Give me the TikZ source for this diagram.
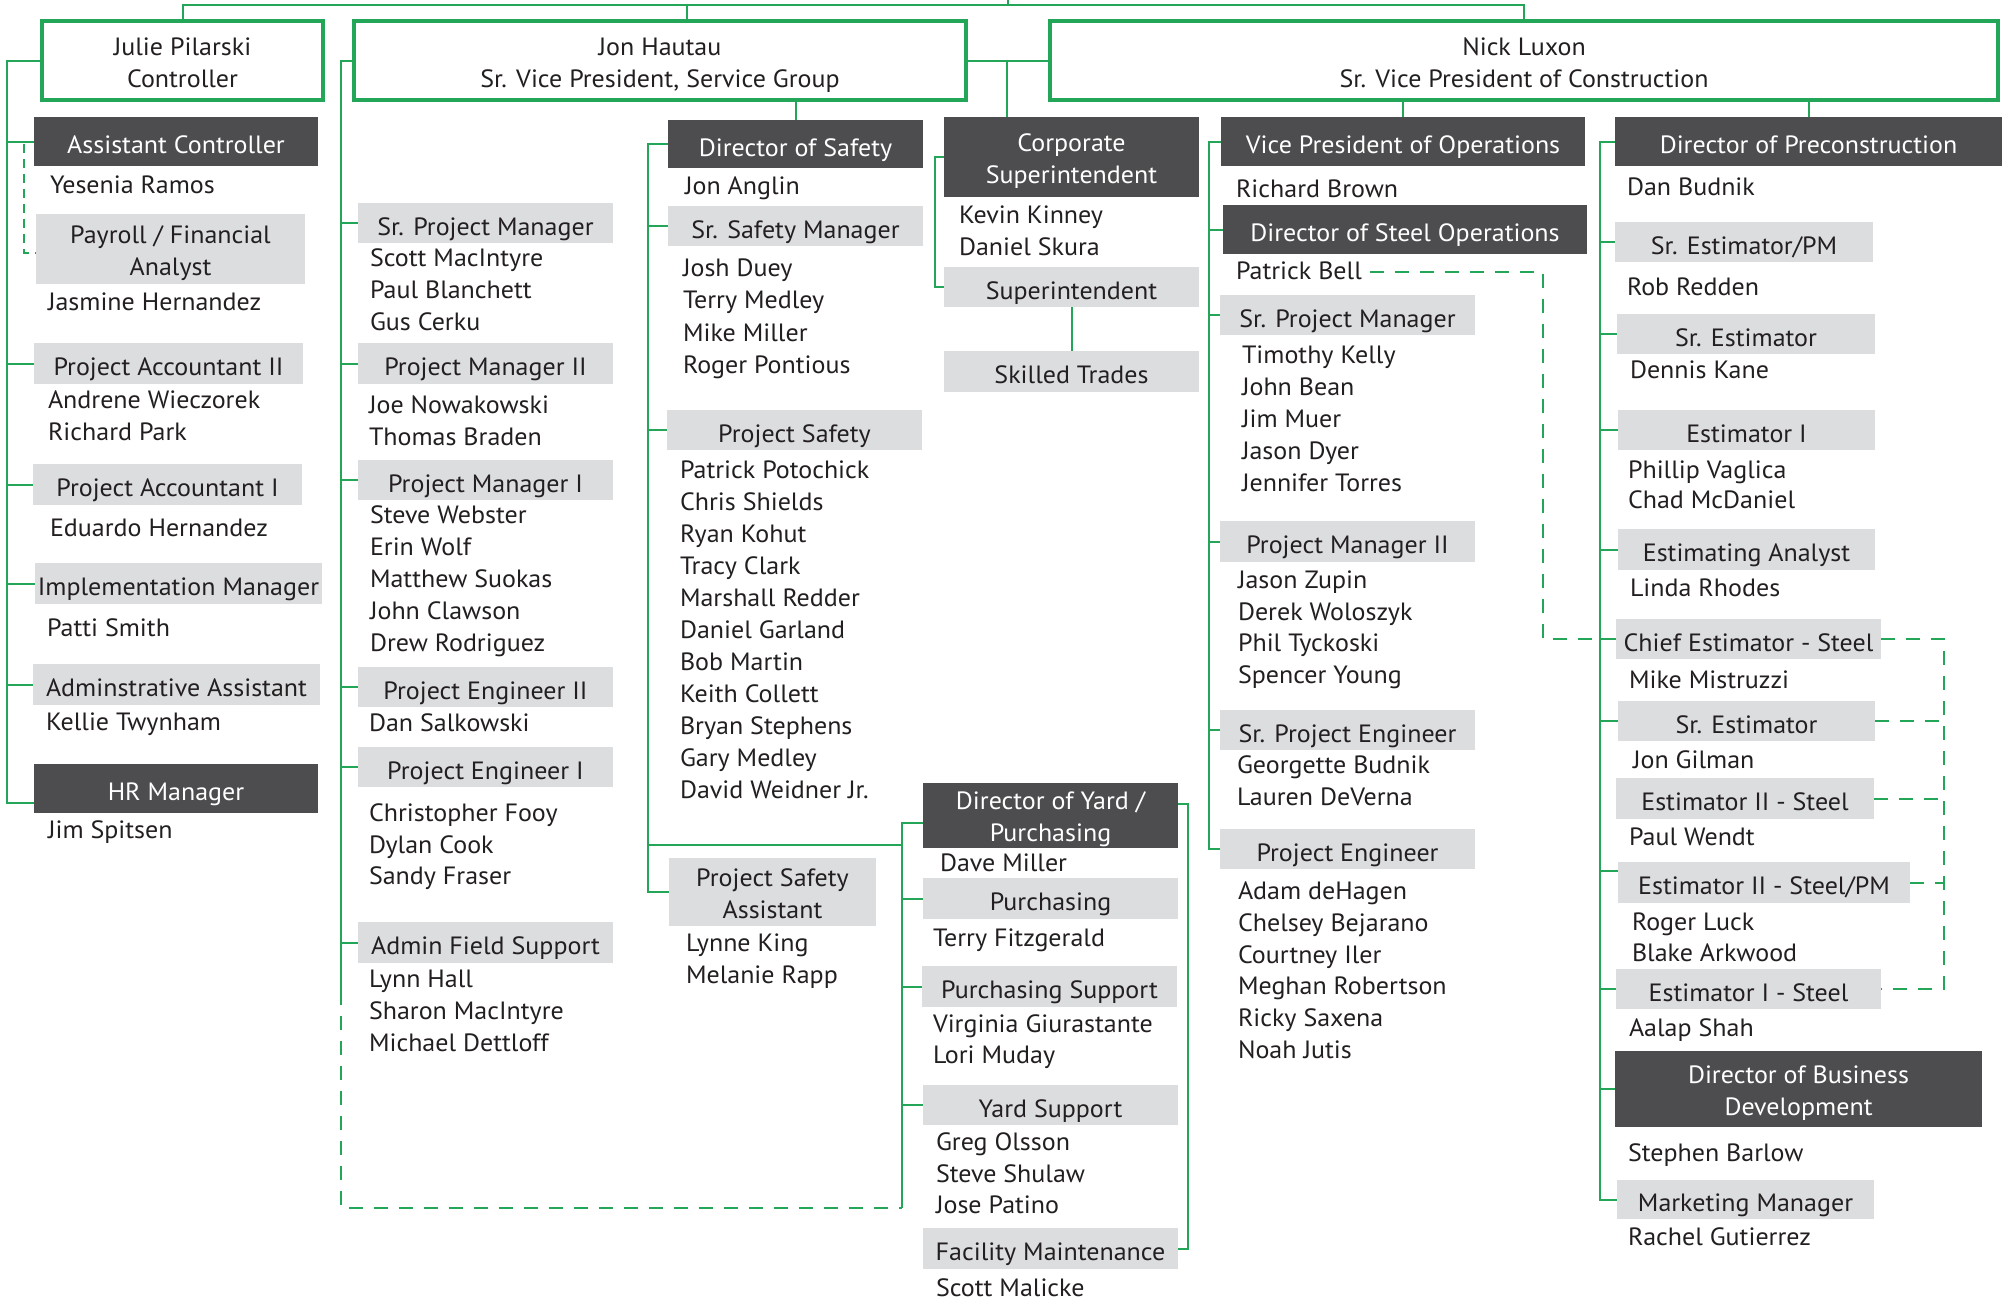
\documentclass[tikz,border=0pt]{standalone}
\usepackage{fontspec}
\setmainfont{PT Sans}[FakeStretch=1.04]
\usetikzlibrary{calc}
\definecolor{grn}{RGB}{35,166,88}
\definecolor{dk}{RGB}{77,77,79}
\definecolor{lt}{RGB}{220,221,223}
\definecolor{ink}{RGB}{35,31,32}
\newcommand\fs{\fontsize{25}{32}\selectfont}
\newcommand\two[2]{\rule{0pt}{27pt}#1\\#2\rule[-6pt]{0pt}{6pt}}
\newcommand\bx[7]{\node[#2, minimum width=#5-#3, minimum height=#6-#4] (#1) at ({(#3+#5)/2},{(#4+#6)/2}) {#7};}
\newcommand\people[5]{\foreach \t [count=\i from 0] in {#5} {\node[person] (#1-\i) at (#2,{#3+\i*#4}) {\t};}}
\begin{document}
\begin{tikzpicture}[x=1pt,y=-1pt,
  base/.style={inner sep=0pt, outer sep=0pt, align=center, font=\fs},
  one/.style={text height=24pt, text depth=0pt},
  topbox/.style={base, draw=grn, line width=3.5pt, fill=white, text=ink},
  dbox/.style={base, one, fill=dk, text=white},
  dbox2/.style={base, fill=dk, text=white},
  lbox/.style={base, one, fill=lt, text=ink},
  lbox2/.style={base, fill=lt, text=ink},
  person/.style={inner sep=0pt, outer sep=0pt, anchor=west, text=ink, font=\fs, text height=19pt, text depth=4pt},
  link/.style={draw=grn, line width=2pt},
  dlink/.style={link, dash pattern=on 14pt off 11pt}]
\fill[white] (0,0) rectangle (2007,1301);
\useasboundingbox (0,0) rectangle (2007,1301);

% ---------- top level ----------
\bx{julie}{topbox}{42}{21}{323}{100}{\two{Julie Pilarski}{Controller}}
\bx{jon}{topbox}{354}{21}{966}{100}{\two{Jon Hautau}{Sr. Vice President, Service Group}}
\bx{nick}{topbox}{1050}{21}{1998}{100}{\two{Nick Luxon}{Sr. Vice President of Construction}}

% ---------- Julie column ----------
\bx{asst}{dbox}{34}{117}{318}{166}{Assistant Controller}
\people{asstp}{50}{186}{32}{Yesenia Ramos}
\bx{pay}{lbox2}{36}{214}{305}{284}{\two{Payroll / Financial}{Analyst}}
\people{payp}{48}{303}{32}{Jasmine Hernandez}
\bx{pa2}{lbox}{34}{343}{303}{384}{Project Accountant II}
\people{pa2p}{48}{401}{32}{Andrene Wieczorek,Richard Park}
\bx{pa1}{lbox}{33}{464}{302}{505}{Project Accountant I}
\people{pa1p}{50}{529}{32}{Eduardo Hernandez}
\bx{impl}{lbox}{35}{563}{322}{604}{Implementation Manager}
\people{implp}{47}{629}{32}{Patti Smith}
\bx{adm}{lbox}{33}{664}{320}{705}{Adminstrative Assistant}
\people{admp}{46}{723}{32}{Kellie Twynham}
\bx{hr}{dbox}{34}{764}{318}{813}{HR Manager}
\people{hrp}{48}{831}{32}{Jim Spitsen}

% ---------- Jon left column ----------
\bx{spm}{lbox}{358}{203}{613}{243}{Sr. Project Manager}
\people{spmp}{370}{259}{32}{Scott MacIntyre,Paul Blanchett,Gus Cerku}
\bx{pm2}{lbox}{358}{343}{613}{384}{Project Manager II}
\people{pm2p}{369}{406}{32}{Joe Nowakowski,Thomas Braden}
\bx{pm1}{lbox}{358}{460}{613}{500}{Project Manager I}
\people{pm1p}{370}{516}{32}{Steve Webster,Erin Wolf,Matthew Suokas,John Clawson,Drew Rodriguez}
\bx{pe2}{lbox}{358}{667}{613}{707}{Project Engineer II}
\people{pe2p}{369}{724}{32}{Dan Salkowski}
\bx{pe1}{lbox}{358}{747}{613}{787}{Project Engineer I}
\people{pe1p}{369}{814}{31.5}{Christopher Fooy,Dylan Cook,Sandy Fraser}
\bx{afs}{lbox}{358}{922}{613}{963}{Admin Field Support}
\people{afsp}{369}{980}{32}{Lynn Hall,Sharon MacIntyre,Michael Dettloff}

% ---------- Safety column ----------
\bx{dos}{dbox}{668}{120}{923}{168}{Director of Safety}
\people{dosp}{685}{187}{32}{Jon Anglin}
\bx{ssm}{lbox}{668}{206}{923}{246}{Sr. Safety Manager}
\people{ssmp}{683}{269}{32.3}{Josh Duey,Terry Medley,Mike Miller,Roger Pontious}
\bx{ps}{lbox}{667}{410}{922}{450}{Project Safety}
\people{psp}{680}{471}{32}{Patrick Potochick,Chris Shields,Ryan Kohut,Tracy Clark,Marshall Redder,Daniel Garland,Bob Martin,Keith Collett,Bryan Stephens,Gary Medley,David Weidner Jr.}
\bx{psa}{lbox2}{669}{858}{876}{926}{\two{Project Safety}{Assistant}}
\people{psap}{686}{944}{32}{Lynne King,Melanie Rapp}

% ---------- Yard column ----------
\bx{dyp}{dbox2}{923}{784}{1178}{846}{\two{Director of Yard /}{Purchasing}}
\people{dypp}{940}{864}{32}{Dave Miller}
\bx{pur}{lbox}{923}{878}{1178}{919}{Purchasing}
\people{purp}{933}{939}{32}{Terry Fitzgerald}
\bx{pus}{lbox}{922}{966}{1177}{1007}{Purchasing Support}
\people{pusp}{933}{1025}{31}{Virginia Giurastante,Lori Muday}
\bx{ys}{lbox}{923}{1085}{1178}{1125}{Yard Support}
\people{ysp}{936}{1143}{31.5}{Greg Olsson,Steve Shulaw,Jose Patino}
\bx{fm}{lbox}{923}{1228}{1178}{1269}{Facility Maintenance}
\people{fmp}{936}{1289}{32}{Scott Malicke}

% ---------- Corporate superintendent ----------
\bx{corp}{dbox2}{944}{117}{1199}{197}{\two{Corporate}{Superintendent}}
\people{corpp}{959}{216}{32}{Kevin Kinney,Daniel Skura}
\bx{sup}{lbox}{944}{267}{1199}{307}{Superintendent}
\bx{st}{lbox}{944}{351}{1199}{392}{Skilled Trades}

% ---------- VP Operations ----------
\bx{vpo}{dbox}{1221}{117}{1585}{166}{Vice President of Operations}
\people{vpop}{1236}{190}{32}{Richard Brown}
\bx{dso}{dbox}{1223}{205}{1587}{254}{Director of Steel Operations}
\people{pb}{1236}{272}{32}{Patrick Bell}
\bx{vspm}{lbox}{1220}{295}{1475}{335}{Sr. Project Manager}
\people{vspmp}{1242}{356}{32}{Timothy Kelly,John Bean,Jim Muer,Jason Dyer,Jennifer Torres}
\bx{vpm2}{lbox}{1220}{521}{1475}{562}{Project Manager II}
\people{vpm2p}{1238}{581}{31.7}{Jason Zupin,Derek Woloszyk,Phil Tyckoski,Spencer Young}
\bx{vspe}{lbox}{1220}{710}{1475}{750}{Sr. Project Engineer}
\people{vspep}{1237}{766}{32}{Georgette Budnik,Lauren DeVerna}
\bx{vpe}{lbox}{1220}{829}{1475}{869}{Project Engineer}
\people{vpep}{1238}{892}{31.8}{Adam deHagen,Chelsey Bejarano,Courtney Iler,Meghan Robertson,Ricky Saxena,Noah Jutis}

% ---------- Preconstruction ----------
\bx{dpc}{dbox}{1615}{117}{2002}{166}{Director of Preconstruction}
\people{dpcp}{1627}{188}{32}{Dan Budnik}
\bx{sepm}{lbox}{1615}{222}{1873}{262}{Sr. Estimator/PM}
\people{sepmp}{1627}{288}{32}{Rob Redden}
\bx{se1}{lbox}{1617}{314}{1875}{354}{Sr. Estimator}
\people{se1p}{1630}{371}{32}{Dennis Kane}
\bx{ei}{lbox}{1618}{410}{1875}{450}{Estimator I}
\people{eip}{1628}{471}{30}{Phillip Vaglica,Chad McDaniel}
\bx{ea}{lbox}{1618}{529}{1875}{570}{Estimating Analyst}
\people{eap}{1630}{589}{32}{Linda Rhodes}
\bx{ces}{lbox}{1616}{619}{1881}{659}{Chief Estimator - Steel}
\people{cesp}{1629}{681}{32}{Mike Mistruzzi}
\bx{se2}{lbox}{1618}{701}{1875}{741}{Sr. Estimator}
\people{se2p}{1633}{761}{32}{Jon Gilman}
\bx{e2s}{lbox}{1616}{778}{1874}{819}{Estimator II - Steel}
\people{e2sp}{1629}{838}{32}{Paul Wendt}
\bx{e2pm}{lbox}{1618}{862}{1910}{903}{Estimator II - Steel/PM}
\people{e2pmp}{1632}{923}{31}{Roger Luck,Blake Arkwood}
\bx{e1s}{lbox}{1616}{969}{1881}{1009}{Estimator I - Steel}
\people{e1sp}{1629}{1029}{32}{Aalap Shah}
\bx{dbd}{dbox2}{1615}{1051}{1982}{1127}{\two{Director of Business}{Development}}
\people{dbdp}{1628}{1154}{32}{Stephen Barlow}
\bx{mm}{lbox}{1617}{1180}{1874}{1219}{Marketing Manager}
\people{mmp}{1628}{1238}{32}{Rachel Gutierrez}

% ================= connectors =================
\coordinate (top) at (1008,0);
\coordinate (bus) at (1008,5);
\draw[link] (top) -- (bus);
\draw[link] (julie.north) -- (julie.north |- bus) -- (nick.north |- bus) -- (nick.north);
\coordinate (jontop) at ($(jon.north)+(27,0)$);
\draw[link] (jontop |- bus) -- (jontop);
\draw[link] (jon.east) -- (nick.west);
\coordinate (corptop) at ($(corp.north west)+(63,0)$);
\draw[link] (corptop |- jon.east) -- (corptop);

% Julie column
\coordinate (jx) at (7,0);
\coordinate (hrc) at ($(hr.west)+(0,14)$);
\draw[link] (julie.west) -| (jx |- hrc) -- (hrc);
\foreach \n in {asst,pa2,pa1,impl,adm} \draw[link] (jx |- \n.west) -- (\n.west);
\draw[dlink, dash pattern=on 9pt off 6pt] ($(asst.west)+(-10,2)$) |- ($(pay.west)+(0,4)$);

% Jon left column
\coordinate (kx) at (341,0);
\coordinate (yx) at (902,0);
\coordinate (ybot) at (902,1208);
\draw[link] (jon.west) -| (kx |- afs.west) -- ++(0,48) coordinate (ksol);
\foreach \n in {spm,pm2,pm1,pe2,pe1,afs} \draw[link] (kx |- \n.west) -- (\n.west);
\draw[dlink] (ksol) |- (ybot);

% Safety column
\draw[link] (dos.north) -- (dos.north |- jon.south);
\coordinate (sx) at (648,0);
\coordinate (yb) at (902,845);
\draw[link] (dos.west) -| (sx |- psa.west) -- (psa.west);
\foreach \n in {ssm,ps} \draw[link] (sx |- \n.west) -- (\n.west);
\draw[link] (sx |- yb) -- (yb);

% Yard column
\coordinate (dypc) at ($(dyp.west)+(0,8)$);
\draw[link] (dypc) -| (ybot);
\foreach \n in {pur,pus,ys} \draw[link] (yx |- \n.west) -- (\n.west);
\draw[link] ($(dyp.east)+(0,-11)$) -- ++(10,0) |- (fm.east);

% Corporate superintendent
\draw[link] (corp.west) -- ++(-9,0) |- (sup.west);
\draw[link] (sup.south) -- (st.north);

% VP Operations
\draw[link] (vpo.north) -- (vpo.north |- nick.south);
\coordinate (vx) at (1209,0);
\draw[link] (vpo.west) -| (vx |- vpe.west) -- (vpe.west);
\foreach \n in {dso,vspm,vpm2,vspe} \draw[link] (vx |- \n.west) -- (\n.west);
\coordinate (pbx) at (1543,0);
\coordinate (px) at (1600,0);
\draw[dlink] ($(pb-0.east)+(8,0)$) -| (pbx |- ces.west) -- (px |- ces.west);

% Preconstruction
\draw[link] (dpc.north) -- (dpc.north |- nick.south);
\draw[link] (dpc.west) -| (px |- mm.west) -- (mm.west);
\foreach \n in {sepm,se1,ei,ea,ces,se2,e1s,dbd} \draw[link] (px |- \n.west) -- (\n.west);
\coordinate (e2pmc) at ($(e2pm.west)+(0,-12)$);
\draw[link] (px |- e2pmc) -- (e2pmc);
\coordinate (bx) at (1944,0);
\draw[dlink] (ces.east) -| (bx |- e1s.east) -- (e1s.east);
\foreach \n in {se2,e2s,e2pm} \draw[dlink] (\n.east) -- (bx |- \n.east);
\end{tikzpicture}
\end{document}
